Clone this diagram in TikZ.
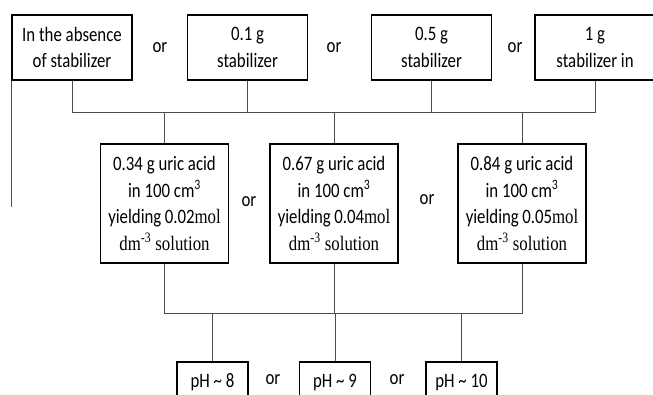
\documentclass[tikz,border=0pt]{standalone}
\usepackage{fontspec}
\newfontfamily\calfont[FakeStretch=0.82]{Carlito}
\newfontfamily\tmsfont[FakeStretch=0.82]{Liberation Serif}
\begin{document}
\begin{tikzpicture}[x=1pt,y=-1pt,
  txt/.style={font=\calfont\fontsize{20.5}{26.5}\selectfont},
  box/.style={draw=black,line width=1.7pt,inner sep=0pt,align=center,txt},
  topbox/.style={box,minimum width=120pt,minimum height=65pt},
  midbox/.style={box,minimum width=128pt,minimum height=119pt},
  phbox/.style={box,minimum width=71pt,minimum height=40pt},
  orlab/.style={txt,inner sep=0pt},
  conn/.style={draw=black!70,line width=0.9pt}]
\useasboundingbox (0,0) rectangle (653,395);
\clip (0,0) rectangle (653,395);
% top row
\node[topbox] (t1) at (72,47.5) {In the absence\\of stabilizer};
\node[topbox] (t2) at (247.5,47.5) {0.1 g\\stabilizer};
\node[topbox] (t3) at (431.5,47.5) {0.5 g\\stabilizer};
\node[topbox] (t4) at (595,47.5) {1 g\\stabilizer in};
\node[orlab] (o1) at (160,48) {or};
\node[orlab] (o2) at (334,48) {or};
\node[orlab] (o3) at (515,48) {or};
% middle row
\node[midbox] (m1) at (164.5,203.5) {0.34 g uric acid\\in 100 cm\textsuperscript{3}\\yielding\,0.02{\tmsfont mol}\\{\tmsfont dm\textsuperscript{-3} solution}};
\node[midbox] (m2) at (334,203.5) {0.67 g uric acid\\in 100 cm\textsuperscript{3}\\yielding\,0.04{\tmsfont mol}\\{\tmsfont dm\textsuperscript{-3} solution}};
\node[midbox] (m3) at (522,203.5) {0.84 g uric acid\\in 100 cm\textsuperscript{3}\\yielding\,0.05{\tmsfont mol}\\{\tmsfont dm\textsuperscript{-3} solution}};
\node[orlab] (o4) at (249,202) {or};
\node[orlab] (o5) at (427,200) {or};
% bottom row
\node[phbox] (p1) at (212.5,382) {pH \char`~\ 8};
\node[phbox] (p2) at (335,382) {pH \char`~\ 9};
\node[phbox] (p3) at (461.5,382) {pH \char`~\ 10};
\node[orlab] (o6) at (273,380) {or};
\node[orlab] (o7) at (397,380) {or};
% junctions
\coordinate (j1) at (0,112);
\coordinate (j2) at (0,313);
\coordinate (lend) at (12,207);
% connectors
\draw[conn] (t1.south) -- (t1.south |- j1) -- (t4.south |- j1) -- (t4.south);
\draw[conn] (t2.south) -- (t2.south |- j1);
\draw[conn] (t3.south) -- (t3.south |- j1);
\draw[conn] (m1.north) -- (m1.north |- j1);
\draw[conn] (m2.north) -- (m2.north |- j1);
\draw[conn] (m3.north) -- (m3.north |- j1);
\draw[conn] (t1.south west) -- (t1.south west |- lend);
\draw[conn] (m1.south) -- (m1.south |- j2) -- (m3.south |- j2) -- (m3.south);
\draw[conn] (m2.south) -- (m2.south |- j2);
\draw[conn] (p1.north) -- (p1.north |- j2);
\draw[conn] (p2.north) -- (p2.north |- j2);
\draw[conn] (p3.north) -- (p3.north |- j2);
\end{tikzpicture}
\end{document}
